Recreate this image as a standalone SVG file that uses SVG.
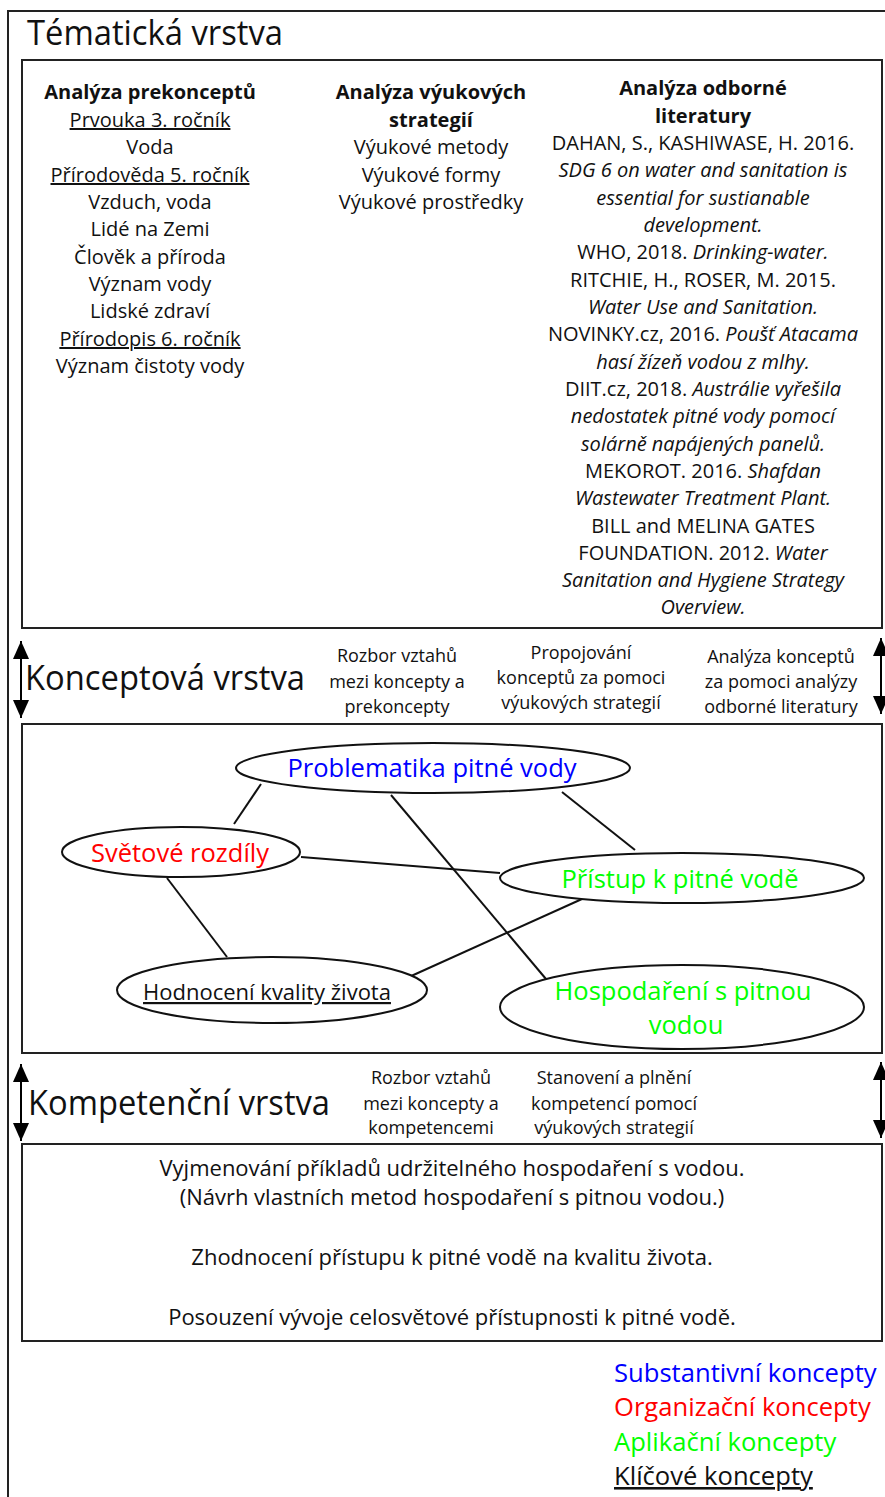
<svg xmlns="http://www.w3.org/2000/svg" width="885" height="1497" viewBox="0 0 885 1497">
  <defs>
    <marker id="head" viewBox="0 0 18 16" refX="18" refY="8" markerWidth="18" markerHeight="16" markerUnits="userSpaceOnUse" orient="auto-start-reverse">
      <path d="M0,0 L18,8 L0,16 Z" fill="#000"/>
    </marker>
    <style>
      text { font-family: "Open Sans", "Liberation Sans", sans-serif; fill: #111; }
      .frame { fill: none; stroke: #222; stroke-width: 2; }
      .title { font-size: 34px; }
      .body { font-size: 20px; text-anchor: middle; }
      .head { font-weight: bold; }
      .small { font-size: 18px; text-anchor: middle; }
      .u { text-decoration: underline; }
      .it { font-style: italic; }
      .node { fill: #fff; stroke: #111; stroke-width: 2; }
      .lbl { font-size: 25.5px; text-anchor: middle; }
      .blue { fill: #0000ff; }
      .red { fill: #ff0000; }
      .green { fill: #00ff00; }
      .conn line { stroke: #111; stroke-width: 2; }
      .arrow { stroke: #000; stroke-width: 2; marker-start: url(#head); marker-end: url(#head); }
      .legend { font-size: 25.6px; }
    </style>
  </defs>

  <rect width="885" height="1497" fill="#fff"/>

  <!-- outer frame -->
  <rect class="frame" x="8" y="11" width="900" height="1500"/>

  <!-- thematic layer -->
  <g id="thematic-layer">
    <text class="title" x="27" y="45" textLength="256" lengthAdjust="spacingAndGlyphs">Tématická vrstva</text>
    <rect class="frame" x="22" y="60" width="860" height="568"/>

    <g id="col-prekoncepty" class="body">
      <text x="150" y="99" class="head">Analýza prekonceptů</text>
      <text x="150" y="127" class="u">Prvouka 3. ročník</text>
      <text x="150" y="154">Voda</text>
      <text x="150" y="182" class="u">Přírodověda 5. ročník</text>
      <text x="150" y="209">Vzduch, voda</text>
      <text x="150" y="236">Lidé na Zemi</text>
      <text x="150" y="264">Člověk a příroda</text>
      <text x="150" y="291">Význam vody</text>
      <text x="150" y="318">Lidské zdraví</text>
      <text x="150" y="346" class="u">Přírodopis 6. ročník</text>
      <text x="150" y="373">Význam čistoty vody</text>
    </g>

    <g id="col-strategie" class="body">
      <text x="431" y="99" class="head">Analýza výukových</text>
      <text x="431" y="127" class="head">strategií</text>
      <text x="431" y="154">Výukové metody</text>
      <text x="431" y="182">Výukové formy</text>
      <text x="431" y="209">Výukové prostředky</text>
    </g>

    <g id="col-literatura" class="body">
      <text x="703" y="95" class="head">Analýza odborné</text>
      <text x="703" y="123" class="head">literatury</text>
      <text x="703" y="150">DAHAN, S., KASHIWASE, H. 2016.</text>
      <text x="703" y="177" class="it">SDG 6 on water and sanitation is</text>
      <text x="703" y="205" class="it">essential for sustianable</text>
      <text x="703" y="232" class="it">development.</text>
      <text x="703" y="259">WHO, 2018. <tspan class="it">Drinking-water.</tspan></text>
      <text x="703" y="287">RITCHIE, H., ROSER, M. 2015.</text>
      <text x="703" y="314" class="it">Water Use and Sanitation.</text>
      <text x="703" y="341">NOVINKY.cz, 2016. <tspan class="it">Poušť Atacama</tspan></text>
      <text x="703" y="369" class="it">hasí žízeň vodou z mlhy.</text>
      <text x="703" y="396">DIIT.cz, 2018. <tspan class="it">Austrálie vyřešila</tspan></text>
      <text x="703" y="423" class="it">nedostatek pitné vody pomocí</text>
      <text x="703" y="451" class="it">solárně napájených panelů.</text>
      <text x="703" y="478">MEKOROT. 2016. <tspan class="it">Shafdan</tspan></text>
      <text x="703" y="505" class="it">Wastewater Treatment Plant.</text>
      <text x="703" y="533">BILL and MELINA GATES</text>
      <text x="703" y="560">FOUNDATION. 2012. <tspan class="it">Water</tspan></text>
      <text x="703" y="587" class="it">Sanitation and Hygiene Strategy</text>
      <text x="703" y="614" class="it">Overview.</text>
    </g>
  </g>

  <!-- concept layer header -->
  <g id="concept-header">
    <line class="arrow" x1="21" y1="641" x2="21" y2="718"/>
    <line class="arrow" x1="881" y1="638" x2="881" y2="714"/>
    <text class="title" x="25" y="690" textLength="280" lengthAdjust="spacingAndGlyphs">Konceptová vrstva</text>
    <g class="small">
      <text x="397" y="662">Rozbor vztahů</text>
      <text x="397" y="688">mezi koncepty a</text>
      <text x="397" y="713">prekoncepty</text>
      <text x="581" y="659">Propojování</text>
      <text x="581" y="684">konceptů za pomoci</text>
      <text x="581" y="709">výukových strategií</text>
      <text x="781" y="663">Analýza konceptů</text>
      <text x="781" y="688">za pomoci analýzy</text>
      <text x="781" y="713">odborné literatury</text>
    </g>
  </g>

  <!-- concept map -->
  <rect class="frame" x="22" y="724" width="860" height="329"/>

  <g id="connectors" class="conn">
    <line x1="261" y1="784" x2="234" y2="824"/>
    <line x1="391" y1="795" x2="546" y2="979"/>
    <line x1="562" y1="792" x2="635" y2="850"/>
    <line x1="301" y1="857" x2="500" y2="873"/>
    <line x1="167" y1="878" x2="227" y2="957"/>
    <line x1="409" y1="977" x2="582" y2="899"/>
  </g>

  <g id="node-problematika">
    <ellipse class="node" cx="433" cy="768" rx="197" ry="25"/>
    <text class="lbl blue" x="432" y="777">Problematika pitné vody</text>
  </g>
  <g id="node-svetove">
    <ellipse class="node" cx="181" cy="852" rx="119" ry="25"/>
    <text class="lbl red" x="180" y="862">Světové rozdíly</text>
  </g>
  <g id="node-pristup">
    <ellipse class="node" cx="682" cy="878" rx="182" ry="25"/>
    <text class="lbl green" x="680" y="888">Přístup k pitné vodě</text>
  </g>
  <g id="node-hodnoceni">
    <ellipse class="node" cx="272" cy="990" rx="155" ry="33"/>
    <text class="lbl u" x="267" y="1000" style="font-size:22px">Hodnocení kvality života</text>
  </g>
  <g id="node-hospodareni">
    <ellipse class="node" cx="682" cy="1007" rx="182" ry="42"/>
    <text class="lbl green" x="683" y="1000">Hospodaření s pitnou</text>
    <text class="lbl green" x="686" y="1034">vodou</text>
  </g>

  <!-- competence layer header -->
  <g id="competence-header">
    <line class="arrow" x1="21" y1="1064" x2="21" y2="1141"/>
    <line class="arrow" x1="881" y1="1062" x2="881" y2="1138"/>
    <text class="title" x="28" y="1115" textLength="302" lengthAdjust="spacingAndGlyphs">Kompetenční vrstva</text>
    <g class="small">
      <text x="431" y="1084">Rozbor vztahů</text>
      <text x="431" y="1110">mezi koncepty a</text>
      <text x="431" y="1134">kompetencemi</text>
      <text x="614" y="1084">Stanovení a plnění</text>
      <text x="614" y="1110">kompetencí pomocí</text>
      <text x="614" y="1134">výukových strategií</text>
    </g>
  </g>

  <g id="competences">
    <rect class="frame" x="22" y="1144" width="860" height="197"/>
    <g class="body" style="font-size:22px">
      <text x="452" y="1176">Vyjmenování příkladů udržitelného hospodaření s vodou.</text>
      <text x="452" y="1205">(Návrh vlastních metod hospodaření s pitnou vodou.)</text>
      <text x="452" y="1265">Zhodnocení přístupu k pitné vodě na kvalitu života.</text>
      <text x="452" y="1325">Posouzení vývoje celosvětové přístupnosti k pitné vodě.</text>
    </g>
  </g>

  <!-- legend -->
  <g id="legend" class="legend">
    <text class="blue" x="614" y="1382">Substantivní koncepty</text>
    <text class="red" x="614" y="1416">Organizační koncepty</text>
    <text class="green" x="614" y="1451">Aplikační koncepty</text>
    <text class="u" x="614" y="1485">Klíčové koncepty</text>
  </g>
</svg>
